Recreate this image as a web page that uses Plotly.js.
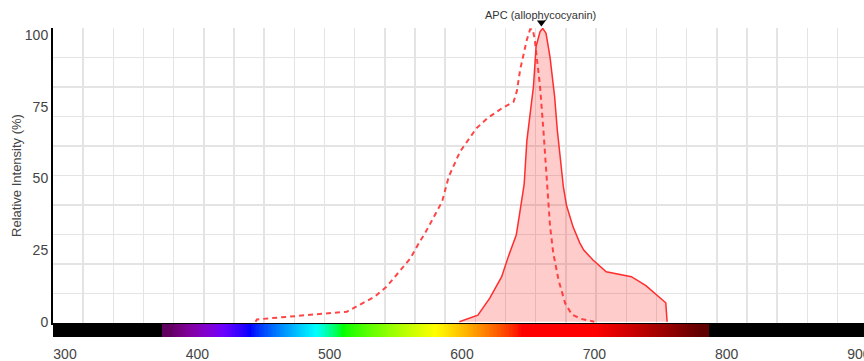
<!DOCTYPE html>
<html>
<head>
<meta charset="utf-8">
<script src="https://cdn.plot.ly/plotly-3.0.1.min.js"></script>
<style>
  html, body { margin: 0; padding: 0; background: #ffffff; }
  #chart { width: 864px; height: 361px; }
</style>
</head>
<body>
<div id="chart"></div>
<script>
// ---- Data ----
const chartTitle = 'APC (allophycocyanin)';
const yTitle = 'Relative Intensity (%)';

// Excitation spectrum (dashed)
const exWl  = [444, 445, 513, 518, 534, 543, 556, 561, 568, 572, 585, 590, 598.5, 611, 619, 630, 639, 641.5, 644, 649, 651.5, 653.5, 655, 659, 661.5, 662.7, 664.5, 666.5, 669, 673, 678, 683, 690, 700];
const exVal = [0, 0.8, 3.5, 4.7, 8.7, 12.2, 19.2, 22.1, 27.9, 30.8, 41.9, 50.6, 59.3, 67.5, 70.9, 74.4, 76.7, 80.5, 88, 98.3, 102, 102, 98.3, 82, 67, 58.7, 47.1, 33.5, 23.9, 14.5, 6.4, 2.5, 1.0, 0];

// Emission spectrum (solid, filled)
const emWl  = [598, 612, 621, 630, 635, 641, 643, 645, 647, 649, 651, 654, 656, 659, 661, 663.5, 666.5, 670, 672, 674, 676.6, 679, 684, 689, 692, 699, 709, 728, 739, 754, 755];
const emVal = [0, 2.3, 8.2, 15.7, 22.7, 30.2, 36, 42.4, 48, 63, 70, 82, 96, 101.2, 102.3, 100.6, 92.4, 78.5, 67, 58.7, 47.1, 40.5, 33, 27.5, 25, 21.5, 17.4, 15.7, 12.6, 6.6, 0];

// Peak marker wavelength
const peakWl = [660];

// Axis ticks
const xTicks = [300, 400, 500, 600, 700, 800, 900];
const yTicks = [0, 25, 50, 75, 100];

// ---- Styling / geometry ----
const xRange = [290.93, 903.8];
const yRange = [-0.45, 102.44];
const gridColor = '#e4e4e4';
const barStart = 374, barEnd = 787;

// Visible spectrum colour (Bruton approximation)
function wlColor(w) {
  let ww = Math.min(780, Math.max(380, w));
  let r = 0, g = 0, b = 0;
  if (ww < 440) { r = -(ww - 440) / 60; b = 1; }
  else if (ww < 490) { g = (ww - 440) / 50; b = 1; }
  else if (ww < 510) { g = 1; b = -(ww - 510) / 20; }
  else if (ww < 580) { r = (ww - 510) / 70; g = 1; }
  else if (ww < 645) { r = 1; g = -(ww - 645) / 65; }
  else { r = 1; }
  let f = 1;
  if (ww < 420) f = 0.3 + 0.7 * (ww - 380) / 40;
  else if (ww > 700) f = 0.3 + 0.7 * (780 - ww) / 80;
  const c = v => v === 0 ? 0 : Math.round(255 * Math.pow(v * f, 0.8));
  return 'rgb(' + c(r) + ',' + c(g) + ',' + c(b) + ')';
}

// Spectrum bar (decorative heatmap)
const zMin = 290, zMax = 905;
const barX = [];
for (let w = zMin; w <= zMax; w += 1) barX.push(w);
const frac = w => (w - zMin) / (zMax - zMin);
const cscale = [[0, '#000000'], [frac(barStart) - 0.0001, '#000000']];
for (let w = barStart; w <= barEnd; w += 2) cscale.push([frac(w), wlColor(w)]);
cscale.push([frac(barEnd) + 0.0001, '#000000']);
cscale.push([1, '#000000']);

const traces = [
  {
    type: 'heatmap', x: barX, z: [barX], xaxis: 'x2', yaxis: 'y2',
    zmin: zMin, zmax: zMax, colorscale: cscale, showscale: false, hoverinfo: 'skip'
  },
  {
    type: 'scatter', mode: 'lines', x: [], y: [], xaxis: 'x', yaxis: 'y3', hoverinfo: 'skip'
  },
  {
    type: 'scatter', mode: 'lines', name: 'Emission', x: emWl, y: emVal,
    line: { color: 'rgb(255,45,45)', width: 1.5 },
    fill: 'tozeroy', fillcolor: 'rgba(255,0,0,0.2)'
  },
  {
    type: 'scatter', mode: 'lines', name: 'Excitation', x: exWl, y: exVal,
    line: { color: 'rgba(255,50,50,0.9)', width: 2, dash: '5px,4px' }
  }
];

const layout = {
  width: 864, height: 361,
  margin: { l: 53, r: 0, t: 28, b: 24, pad: 0 },
  paper_bgcolor: '#ffffff', plot_bgcolor: '#ffffff',
  showlegend: false,
  font: { family: 'Liberation Sans, Arial, sans-serif', color: '#444444' },
  xaxis: {
    domain: [0, 1], anchor: 'y', range: xRange,
    tick0: xRange[0], dtick: 22.8, showticklabels: false, ticks: '',
    showgrid: true, gridcolor: gridColor, gridwidth: 1.5,
    showline: true, linecolor: '#000000', linewidth: 2, zeroline: false, fixedrange: true
  },
  yaxis: {
    domain: [0.0453, 1], anchor: 'x', range: yRange,
    tickmode: 'array', tickvals: yTicks, ticktext: yTicks.map(String),
    showgrid: false, ticks: '', tickfont: { size: 14, color: '#444444' },
    showline: true, linecolor: '#000000', linewidth: 2, zeroline: false,
    title: { text: yTitle, font: { size: 13, color: '#444444' }, standoff: 0 },
    fixedrange: true
  },
  yaxis3: {
    overlaying: 'y', anchor: 'x', side: 'left', range: [0, 10], tick0: 0, dtick: 1,
    showticklabels: false, ticks: '', showgrid: true, gridcolor: gridColor, gridwidth: 1.5,
    zeroline: false, showline: false, fixedrange: true
  },
  xaxis2: {
    domain: [0, 1], anchor: 'y2', range: xRange,
    tickmode: 'array', tickvals: xTicks, ticktext: xTicks.map(String),
    ticks: 'outside', ticklen: 4, tickcolor: 'rgba(0,0,0,0)',
    tickfont: { size: 14, color: '#444444' }, ticklabeloverflow: 'allow',
    showgrid: false, showline: false, zeroline: false, fixedrange: true
  },
  yaxis2: {
    domain: [0, 0.042], anchor: 'x2', range: [-0.5, 0.5], visible: false, fixedrange: true
  },
  shapes: peakWl.map(w => ({
    type: 'path', xref: 'x', yref: 'paper',
    xsizemode: 'pixel', ysizemode: 'pixel', xanchor: w, yanchor: 1,
    path: 'M -4.5 7.5 L 4.5 7.5 L 0 1.5 Z',
    fillcolor: '#000000', line: { width: 0 }, layer: 'above'
  })),
  annotations: [
    {
      text: chartTitle, xref: 'x', yref: 'paper', x: 659.3, y: 1.042,
      xanchor: 'center', yanchor: 'middle', showarrow: false,
      font: { size: 11, color: '#333333' }
    }
  ]
};

Plotly.newPlot('chart', traces, layout, { displayModeBar: false, staticPlot: true });
</script>
</body>
</html>
